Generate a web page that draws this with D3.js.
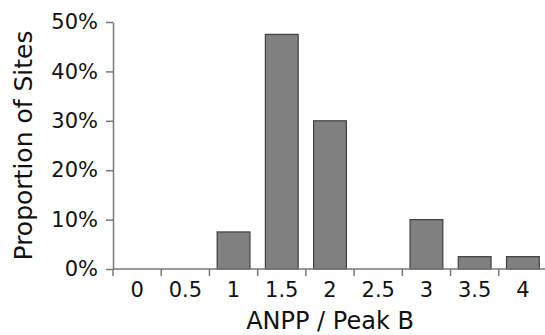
<!DOCTYPE html>
<html>
<head>
<meta charset="utf-8">
<script src="https://cdn.jsdelivr.net/npm/d3@7"></script>
<style>
  body { margin: 0; background: #fff; }
  svg { display: block; font-family: "DejaVu Sans", sans-serif; }
</style>
</head>
<body>
<svg width="545" height="335"></svg>
<script>
// ratio bins and share of sites in each
let categories = ["0", "0.5", "1", "1.5", "2", "2.5", "3", "3.5", "4"]
let proportions = [0, 0, 0.075, 0.475, 0.30, 0, 0.10, 0.025, 0.025]
let yTicks = [0, 0.1, 0.2, 0.3, 0.4, 0.5]

var svg = d3.select("svg")

var x = d3.scaleBand()
  .domain(categories)
  .range([113, 547])
  .paddingInner(0.32)
  .paddingOuter(0.16)

let gap = x.step() * 0.16 // half of the inner padding: bar edge to bin edge

var y = d3.scaleLinear()
  .domain([0, 0.5])
  .range([269, 22])

let data = categories.map((c, i) => ({ cat: c, value: proportions[i] }))

// bars
svg.append("g")
  .selectAll("rect")
  .data(data.filter(d => d.value > 0))
  .enter()
  .append("rect")
  .attr("x", d => x(d.cat))
  .attr("y", d => y(d.value))
  .attr("width", x.bandwidth())
  .attr("height", d => y(0) - y(d.value))
  .attr("fill", "#808080")
  .attr("stroke", "#3f3f3f")
  .attr("stroke-width", 1.2)

// y axis
var yAxis = svg.append("g")
  .attr("transform", "translate(113,0)")
  .call(d3.axisLeft(y).tickValues(yTicks).tickFormat(d3.format(".0%")).tickSize(7).tickSizeOuter(0).tickPadding(8))
yAxis.select(".domain").attr("stroke", "#777").attr("stroke-width", 1.5)
yAxis.selectAll(".tick line").attr("stroke", "#777").attr("stroke-width", 1.5)
yAxis.selectAll(".tick text").attr("font-size", 21).attr("fill", "#111").attr("font-family", "DejaVu Sans")

// x axis: labels centred in bins, ticks on bin edges
var xAxis = svg.append("g")
  .attr("transform", "translate(0,269)")
xAxis.append("line")
  .attr("x1", 113).attr("x2", 547)
  .attr("stroke", "#777").attr("stroke-width", 1.5)
xAxis.selectAll(".edge")
  .data(categories)
  .enter()
  .append("line")
  .attr("class", "edge")
  .attr("x1", d => x(d) - gap)
  .attr("x2", d => x(d) - gap)
  .attr("y1", 0).attr("y2", 7)
  .attr("stroke", "#777").attr("stroke-width", 1.5)
xAxis.selectAll(".lbl")
  .data(categories)
  .enter()
  .append("text")
  .attr("class", "lbl")
  .attr("x", d => x(d) + x.bandwidth() / 2)
  .attr("y", 28)
  .attr("text-anchor", "middle")
  .attr("font-size", 21)
  .attr("fill", "#111")
  .text(d => d)

// titles
svg.append("text")
  .attr("x", 330)
  .attr("y", 329)
  .attr("text-anchor", "middle")
  .attr("font-size", 24)
  .attr("fill", "#111")
  .text("ANPP / Peak B")

svg.append("text")
  .attr("transform", "translate(32,145.5) rotate(-90)")
  .attr("text-anchor", "middle")
  .attr("font-size", 25)
  .attr("fill", "#111")
  .text("Proportion of Sites")
</script>
</body>
</html>
